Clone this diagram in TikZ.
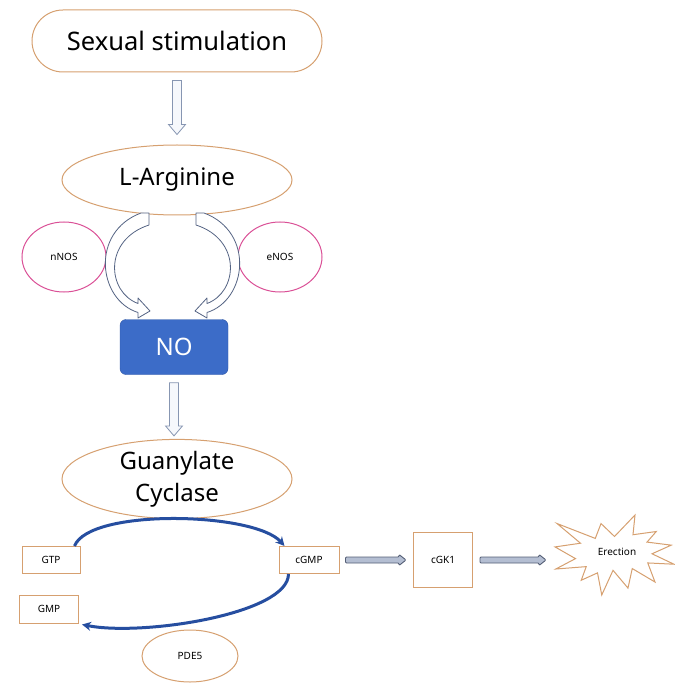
\documentclass[tikz,border=0pt]{standalone}
\usepackage{fontspec}
\setmainfont{Noto Sans}
\usetikzlibrary{shapes.geometric,arrows.meta,calc}
\definecolor{tanc}{RGB}{214,160,112}
\definecolor{pinkc}{RGB}{218,80,150}
\definecolor{noblue}{RGB}{60,108,200}
\definecolor{noborder}{RGB}{45,85,165}
\definecolor{arrblue}{RGB}{38,78,160}
\definecolor{hollowc}{RGB}{135,150,178}
\definecolor{hollowfill}{RGB}{246,248,252}
\definecolor{curvec}{RGB}{85,100,132}
\definecolor{hfill}{RGB}{180,190,210}
\definecolor{hdraw}{RGB}{85,95,118}
\begin{document}
\begin{tikzpicture}[x=1pt,y=-1pt,
  bigtext/.style={font=\fontsize{24}{30}\selectfont},
  smalltext/.style={font=\fontsize{10}{12}\selectfont},
  tanshape/.style={draw=tanc, line width=1pt, fill=white},
  pinkshape/.style={draw=pinkc, line width=1pt, ellipse, minimum width=84pt, minimum height=70pt, smalltext},
  smallbox/.style={tanshape, rectangle, smalltext, inner sep=0pt},
  vhollow/.style={draw=hollowc, fill=hollowfill, line width=0.8pt, line join=miter},
  curvehollow/.style={draw=curvec, fill=white, line width=0.8pt, line join=round},
  hhollow/.style={draw=hdraw, fill=hfill, line width=0.9pt, line join=miter},
  bluearrow/.style={draw=arrblue, line width=3pt, -{Stealth[length=9pt,width=9pt]}}
]
\useasboundingbox (0,0) rectangle (674,684);

% nodes
\node[tanshape, rectangle, rounded corners=31pt, minimum width=290pt, minimum height=62pt, font=\fontsize{25.5}{30}\selectfont] (sex) at (177,41) {Sexual stimulation};
\node[tanshape, ellipse, minimum width=230pt, minimum height=70pt, bigtext, inner sep=0pt] (larg) at (177,180) {L-Arginine};
\node[pinkshape] (nnos) at (64,257) {nNOS};
\node[pinkshape] (enos) at (280,257) {eNOS};
\node[draw=noborder, fill=noblue, rounded corners=6pt, minimum width=108pt, minimum height=55pt, text=white, bigtext] (no) at (174,347) {NO};
\node[tanshape, ellipse, minimum width=230pt, minimum height=76pt, inner sep=0pt, align=center, font=\fontsize{24}{32}\selectfont] (gc) at (177,479) {Guanylate\\Cyclase};

\node[smallbox, minimum width=58pt, minimum height=27pt] (gtp) at (51,560) {GTP};
\node[smallbox, minimum width=60pt, minimum height=27pt] (cgmp) at (309,560) {cGMP};
\node[smallbox, minimum width=59pt, minimum height=28pt] (gmp) at (49,609) {GMP};
\node[tanshape, ellipse, minimum width=96pt, minimum height=52pt, smalltext] (pde) at (190,656) {PDE5};
\node[smallbox, minimum width=59pt, minimum height=55pt] (cgk) at (443,560) {cGK1};

% explosion shape behind the Erection label
\begin{scope}[shift={(614.5,555)}, x=0.551pt, y=-0.3704pt]
\draw[tanc, fill=white, line width=1pt, line join=miter]
 (0,-50) -- (37.22,-108) -- (33.55,-54.75) -- (75.8,-63.43) -- (59.02,-34.85) -- (102.97,-26.63)
 -- (68.07,-3.25) -- (108,24.9) -- (60.37,21.42) -- (73.45,72.95) -- (32.2,36.57) -- (24.47,89.37)
 -- (-2.68,41.35) -- (-23.15,108) -- (-30.85,48.27) -- (-60.38,68.17) -- (-51.33,31.37) -- (-106.65,37.87)
 -- (-70.78,9.75) -- (-108,-21.85) -- (-61.73,-31.83) -- (-104.3,-84.95) -- (-34.88,-44.8) -- (-24.48,-84.95) -- cycle;
\end{scope}
\node[smalltext, inner sep=1pt] (ere) at (617,552) {Erection};

% vertical hollow arrows
\draw[vhollow] let \p1=([yshift=-8pt]sex.south), \p2=([yshift=10pt]larg.north) in
  (\x1-4.5pt,\y1) -- (\x1-4.5pt,\y2+10pt) -- (\x1-8.5pt,\y2+10pt) -- (\x1,\y2) -- (\x1+8.5pt,\y2+10pt) -- (\x1+4.5pt,\y2+10pt) -- (\x1+4.5pt,\y1) -- cycle;
\draw[vhollow] let \p1=([yshift=-8pt]no.south), \p2=([yshift=3pt]gc.north) in
  (\x1-4.5pt,\y1) -- (\x1-4.5pt,\y2+10pt) -- (\x1-8.5pt,\y2+10pt) -- (\x1,\y2) -- (\x1+8.5pt,\y2+10pt) -- (\x1+4.5pt,\y2+10pt) -- (\x1+4.5pt,\y1) -- cycle;

% curved block arrows from L-Arginine to NO
\draw[curvehollow] (141,213) .. controls (90,232) and (98,300) .. (138,312.5)
  -- (138,318) -- (150,311) -- (138,298) -- (138,303.5)
  .. controls (107,292) and (103,240) .. (149,225) -- (149,213) -- cycle;
\draw[curvehollow] (204,213) .. controls (255,232) and (247,300) .. (207,312.5)
  -- (207,318) -- (195,311) -- (207,298) -- (207,303.5)
  .. controls (238,292) and (242,240) .. (196,225) -- (196,213) -- cycle;

% blue reaction arrows
\draw[bluearrow] ([xshift=-6pt]gtp.north east) .. controls +(15,-38) and +(-30,-34) .. ([xshift=6pt]cgmp.north west);
\draw[bluearrow] ([xshift=10pt]cgmp.south west) .. controls +(0,40) and +(60,12) .. ([xshift=3pt,yshift=-1pt]gmp.south east);

% horizontal hollow arrows
\draw[hhollow, rounded corners=1pt] let \p1=([xshift=6pt]cgmp.east), \p2=([xshift=-7pt]cgk.west) in
  (\x1,\y1+3pt) -- (\x2-7pt,\y1+3pt) -- (\x2-7pt,\y1+5.5pt) -- (\x2,\y1) -- (\x2-7pt,\y1-5.5pt) -- (\x2-7pt,\y1-3pt) -- (\x1,\y1-3pt) -- cycle;
\draw[hhollow, rounded corners=1pt] let \p1=([xshift=7pt]cgk.east), \p2=([xshift=-71pt,yshift=-8pt]ere.center) in
  (\x1,\y1+3pt) -- (\x2-7pt,\y1+3pt) -- (\x2-7pt,\y1+5.5pt) -- (\x2,\y1) -- (\x2-7pt,\y1-5.5pt) -- (\x2-7pt,\y1-3pt) -- (\x1,\y1-3pt) -- cycle;
\end{tikzpicture}
\end{document}
